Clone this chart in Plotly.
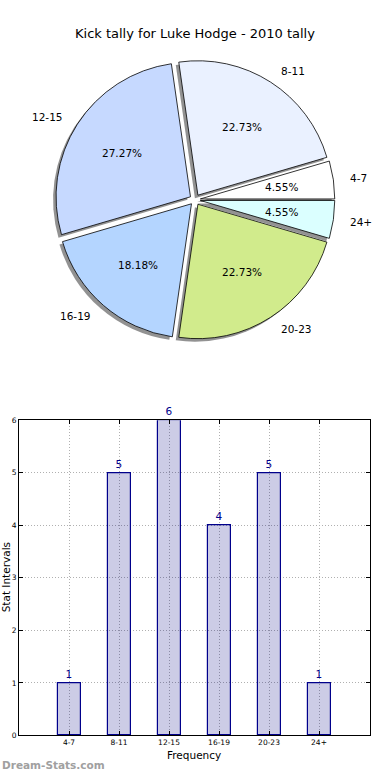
import math
import plotly.graph_objects as go

# ---- data ----
categories = ["4-7", "8-11", "12-15", "16-19", "20-23", "24+"]
counts = [1, 5, 6, 4, 5, 1]
pie_colors = ["#ffffff", "#eaf1ff", "#c6d9ff", "#b4d5ff", "#d1eb8c", "#dbffff"]
title_text = "Kick tally for Luke Hodge - 2010 tally"
x_title = "Frequency"
y_title = "Stat Intervals"
y_ticks = [0, 1, 2, 3, 4, 5, 6]
watermark = "Dream-Stats.com"

W, H = 390, 780
FONT = "DejaVu Sans"

# pie geometry (pixels)
cx, cy = 195, 198
R = 136
PULL = 0.04
side = 2 * R * (1 + PULL)
total = sum(counts)
# first slice starts at 3 o'clock, going counterclockwise (matplotlib style)
rot = 90 - 360 * counts[0] / total


def px(x):
    return x / W


def py(y):
    return 1 - y / H


fig = go.Figure()

# shadow pie
sh_dx, sh_dy = -3, 3
fig.add_trace(go.Pie(
    values=counts, labels=categories, sort=False, direction="counterclockwise",
    rotation=rot, pull=[PULL] * len(counts), textinfo="none", hoverinfo="skip",
    marker=dict(colors=["rgba(110,110,110,0.75)"] * len(counts), line=dict(width=0)),
    domain=dict(x=[px(cx - side / 2 + sh_dx), px(cx + side / 2 + sh_dx)],
                y=[py(cy + side / 2 + sh_dy), py(cy - side / 2 + sh_dy)]),
    showlegend=False,
))

# main pie
fig.add_trace(go.Pie(
    values=counts, labels=categories, sort=False, direction="counterclockwise",
    rotation=rot, pull=[PULL] * len(counts), textinfo="none",
    marker=dict(colors=pie_colors, line=dict(color="black", width=0.8)),
    domain=dict(x=[px(cx - side / 2), px(cx + side / 2)],
                y=[py(cy + side / 2), py(cy - side / 2)]),
    showlegend=False,
))

# pie labels/percentages computed from data (matplotlib-like placement)
cum = 0
annotations = []
for cat, v in zip(categories, counts):
    mid = (cum + v / 2) / total * 2 * math.pi
    cum += v
    c, s = math.cos(mid), math.sin(mid)
    pr = (0.6 + PULL) * R
    annotations.append(dict(
        x=px(cx + pr * c), y=py(cy - pr * s), xref="paper", yref="paper",
        text=f"{v / total * 100:.2f}%", showarrow=False,
        font=dict(family=FONT, size=10.5, color="black"),
        xanchor="center", yanchor="middle"))
    lr = (1.1 + PULL) * R
    annotations.append(dict(
        x=px(cx + lr * c), y=py(cy - lr * s), xref="paper", yref="paper",
        text=cat, showarrow=False,
        font=dict(family=FONT, size=10.5, color="black"),
        xanchor="left" if c > 0 else "right", yanchor="middle"))

# bar chart
fig.add_trace(go.Bar(
    x=list(range(len(categories))), y=counts, width=0.46,
    marker=dict(color="rgba(0,0,128,0.2)", line=dict(color="#00008b", width=1.2)),
    text=[str(v) for v in counts], textposition="outside", cliponaxis=False,
    textfont=dict(family=FONT, size=10.5, color="#00008b"),
    xaxis="x", yaxis="y", showlegend=False, hoverinfo="skip",
))

annotations.append(dict(
    x=px(195), y=py(30), xref="paper", yref="paper", text=title_text,
    showarrow=False, font=dict(family=FONT, size=13, color="black"),
    xanchor="center", yanchor="middle"))
annotations.append(dict(
    x=px(194), y=py(760), xref="paper", yref="paper", text=x_title,
    showarrow=False, font=dict(family=FONT, size=10.5, color="black"),
    xanchor="center", yanchor="middle"))
annotations.append(dict(
    x=px(6), y=py(580), xref="paper", yref="paper", text=y_title, textangle=-90,
    showarrow=False, font=dict(family=FONT, size=10.5, color="black"),
    xanchor="center", yanchor="middle"))
annotations.append(dict(
    x=0, y=py(770), xref="paper", yref="paper", text=f"<b>{watermark}</b>",
    showarrow=False, font=dict(family=FONT, size=10.5, color="#a0a0a0"),
    xanchor="left", yanchor="middle"))

grid_kw = dict(showgrid=True, gridcolor="#b0b0b0", griddash="1px,2px", gridwidth=1)

fig.update_layout(
    width=W, height=H, margin=dict(l=0, r=0, t=0, b=0),
    paper_bgcolor="white", plot_bgcolor="white",
    font=dict(family=FONT, color="black"),
    annotations=annotations,
    xaxis=dict(
        domain=[px(19), px(370)], range=[-1, 6.02],
        tickmode="array", tickvals=list(range(len(categories))), ticktext=categories,
        tickfont=dict(size=7.5), ticks="inside", ticklen=4, tickcolor="black",
        showline=True, linecolor="black", linewidth=1, mirror="ticks",
        zeroline=False, fixedrange=True, **grid_kw,
    ),
    yaxis=dict(
        domain=[py(740), py(421)], range=[0, 6],
        tickmode="array", tickvals=y_ticks, ticktext=[str(t) for t in y_ticks],
        tickfont=dict(size=7.5), ticks="inside", ticklen=4, tickcolor="black",
        showline=True, linecolor="black", linewidth=1, mirror="ticks",
        zeroline=False, fixedrange=True, **grid_kw,
    ),
    bargap=0,
)

post = (
    "document.documentElement.style.margin='0';"
    "document.documentElement.style.overflow='hidden';"
    "document.body.style.margin='0';"
    "document.body.style.overflow='hidden';"
    "var g=document.getElementById('{plot_id}');"
    "g.style.position='fixed';g.style.left='0px';g.style.top='0px';"
)

fig.write_html(
    "out.html",
    config={"displayModeBar": False, "responsive": False},
    post_script=post,
)
